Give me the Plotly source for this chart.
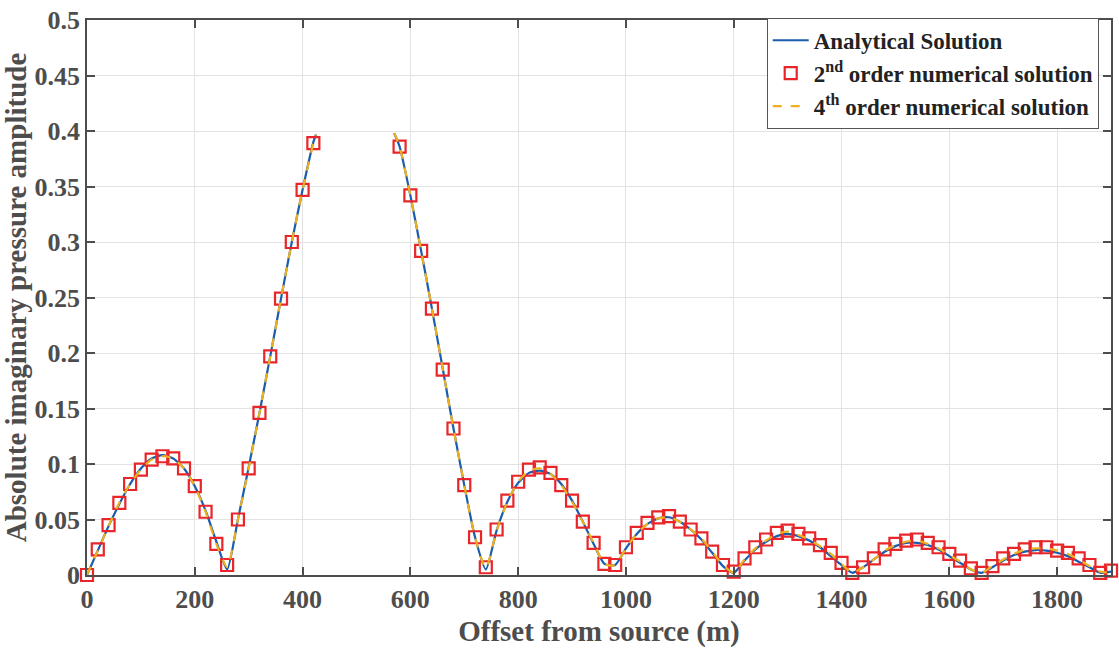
import plotly.graph_objects as go

# Grid for the continuous curves (gap where the amplitude exceeds 0.4)
x_line = [0, 20, 40, 60, 80, 100, 120, 140, 160, 180, 200, 220, 240, 260, 280, 300, 320, 340,
          360, 380, 400, 420, 425, None,
          570, 580, 600, 620, 640, 660, 680, 700, 720, 740, 760, 780, 800, 820, 840, 860, 880,
          900, 920, 940, 960, 980, 1000, 1020, 1040, 1060, 1080, 1100, 1120, 1140, 1160, 1180,
          1200, 1220, 1240, 1260, 1280, 1300, 1320, 1340, 1360, 1380, 1400, 1420, 1440, 1460,
          1480, 1500, 1520, 1540, 1560, 1580, 1600, 1620, 1640, 1660, 1680, 1700, 1720, 1740,
          1760, 1780, 1800, 1820, 1840, 1860, 1880, 1900]

analytical = [0.0, 0.022, 0.044, 0.064, 0.082, 0.096, 0.105, 0.108, 0.105, 0.096, 0.080, 0.058,
              0.030, 0.005, 0.050, 0.097, 0.146, 0.197, 0.249, 0.300, 0.347, 0.390, 0.397, None,
              0.398, 0.386, 0.342, 0.292, 0.240, 0.186, 0.132, 0.081, 0.034, 0.005, 0.040, 0.066,
              0.083, 0.092, 0.094, 0.091, 0.082, 0.067, 0.048, 0.028, 0.010, 0.009, 0.024, 0.037,
              0.046, 0.051, 0.052, 0.048, 0.041, 0.032, 0.020, 0.008, 0.002, 0.013, 0.023, 0.030,
              0.035, 0.037, 0.035, 0.031, 0.025, 0.017, 0.009, 0.002, 0.007, 0.014, 0.021, 0.026,
              0.029, 0.029, 0.027, 0.023, 0.017, 0.011, 0.005, 0.002, 0.007, 0.013, 0.018, 0.021,
              0.0225, 0.022, 0.020, 0.017, 0.012, 0.007, 0.002, 0.003]

fourth_order = [0.0, 0.022, 0.044, 0.065, 0.082, 0.095, 0.104, 0.107, 0.105, 0.096, 0.080, 0.057,
                0.028, 0.007, 0.050, 0.096, 0.146, 0.197, 0.249, 0.300, 0.347, 0.389, 0.397, None,
                0.398, 0.386, 0.342, 0.292, 0.240, 0.186, 0.132, 0.081, 0.034, 0.006, 0.040, 0.066,
                0.084, 0.094, 0.096, 0.091, 0.081, 0.066, 0.048, 0.029, 0.010, 0.009, 0.024, 0.037,
                0.046, 0.051, 0.052, 0.048, 0.041, 0.033, 0.021, 0.009, 0.002, 0.014, 0.024, 0.031,
                0.037, 0.039, 0.036, 0.032, 0.026, 0.019, 0.010, 0.002, 0.007, 0.014, 0.022, 0.027,
                0.030, 0.031, 0.028, 0.024, 0.018, 0.012, 0.005, 0.002, 0.008, 0.014, 0.019, 0.023,
                0.024, 0.024, 0.022, 0.019, 0.014, 0.008, 0.003, 0.002]

# 2nd order numerical solution (squares every 20 m)
x_second = [0, 20, 40, 60, 80, 100, 120, 140, 160, 180, 200, 220, 240, 260, 280, 300, 320, 340,
            360, 380, 400, 420,
            580, 600, 620, 640, 660, 680, 700, 720, 740, 760, 780, 800, 820, 840, 860, 880, 900,
            920, 940, 960, 980, 1000, 1020, 1040, 1060, 1080, 1100, 1120, 1140, 1160, 1180, 1200,
            1220, 1240, 1260, 1280, 1300, 1320, 1340, 1360, 1380, 1400, 1420, 1440, 1460, 1480,
            1500, 1520, 1540, 1560, 1580, 1600, 1620, 1640, 1660, 1680, 1700, 1720, 1740, 1760,
            1780, 1800, 1820, 1840, 1860, 1880, 1900]
second_order = [0.0, 0.023, 0.045, 0.065, 0.082, 0.095, 0.104, 0.107, 0.105, 0.096, 0.080, 0.057,
                0.028, 0.009, 0.050, 0.096, 0.146, 0.197, 0.249, 0.300, 0.347, 0.389,
                0.386, 0.342, 0.292, 0.240, 0.185, 0.132, 0.081, 0.034, 0.007, 0.041, 0.067, 0.084,
                0.095, 0.097, 0.092, 0.081, 0.067, 0.048, 0.029, 0.010, 0.009, 0.025, 0.038, 0.047,
                0.052, 0.053, 0.048, 0.041, 0.033, 0.021, 0.009, 0.003, 0.015, 0.025, 0.032, 0.038,
                0.040, 0.037, 0.033, 0.027, 0.020, 0.011, 0.002, 0.007, 0.015, 0.023, 0.028, 0.031,
                0.032, 0.029, 0.025, 0.019, 0.013, 0.006, 0.002, 0.008, 0.015, 0.019, 0.023, 0.025,
                0.025, 0.022, 0.020, 0.015, 0.009, 0.002, 0.004]

x_ticks = [0, 200, 400, 600, 800, 1000, 1200, 1400, 1600, 1800]
y_ticks = [0, 0.05, 0.1, 0.15, 0.2, 0.25, 0.3, 0.35, 0.4, 0.45, 0.5]
y_tick_labels = ["0", "0.05", "0.1", "0.15", "0.2", "0.25", "0.3", "0.35", "0.4", "0.45", "0.5"]

TEXT = "#4d4d4d"
FONT = "Liberation Serif"

fig = go.Figure()
fig.add_trace(go.Scatter(
    x=x_line, y=analytical, mode="lines", name="Analytical Solution",
    line=dict(color="#1a5cad", width=2.2, shape="spline", smoothing=0.6),
    connectgaps=False,
))
fig.add_trace(go.Scatter(
    x=x_second, y=second_order, mode="markers", name="2<sup>nd</sup> order numerical solution",
    marker=dict(symbol="square-open", size=12, color="#e8262a", line=dict(width=2.2, color="#e8262a")),
    cliponaxis=False,
))
fig.add_trace(go.Scatter(
    x=x_line, y=fourth_order, mode="lines", name="4<sup>th</sup> order numerical solution",
    line=dict(color="#edb120", width=2.2, dash="dash", shape="spline", smoothing=0.6),
    connectgaps=False,
))

fig.update_layout(
    width=1119, height=648,
    margin=dict(l=87, r=6, t=11, b=73),
    paper_bgcolor="white", plot_bgcolor="white",
    font=dict(family=FONT, color=TEXT, size=26, weight="bold"),
    showlegend=True,
    legend=dict(
        x=0.988, y=1.004, xanchor="right", yanchor="top",
        bgcolor="white", bordercolor="#555555", borderwidth=1,
        font=dict(family=FONT, size=23, color="#222222", weight="bold"),
        tracegroupgap=0, itemwidth=36,
    ),
)
fig.update_xaxes(
    range=[0, 1900], tickvals=x_ticks, ticktext=[str(v) for v in x_ticks],
    showgrid=True, gridcolor="#e3e3e3", gridwidth=1,
    showline=True, linecolor=TEXT, linewidth=1.5, mirror="ticks",
    ticks="inside", ticklen=8, tickcolor=TEXT, tickwidth=1.5,
    zeroline=False, ticklabeloverflow="allow",
    tickfont=dict(family=FONT, size=26, color=TEXT, weight="bold"),
    title=dict(text="Offset from source (m)", standoff=8,
               font=dict(family=FONT, size=29, color=TEXT, weight="bold")),
)
fig.update_yaxes(
    range=[0, 0.5], tickvals=y_ticks, ticktext=y_tick_labels,
    showgrid=True, gridcolor="#e3e3e3", gridwidth=1,
    showline=True, linecolor=TEXT, linewidth=1.5, mirror="ticks",
    ticks="inside", ticklen=8, tickcolor=TEXT, tickwidth=1.5,
    zeroline=False, ticklabeloverflow="allow",
    tickfont=dict(family=FONT, size=26, color=TEXT, weight="bold"),
    title=dict(text="Absolute imaginary pressure amplitude", standoff=4,
               font=dict(family=FONT, size=29, color=TEXT, weight="bold")),
)

fig.write_html("out.html")
